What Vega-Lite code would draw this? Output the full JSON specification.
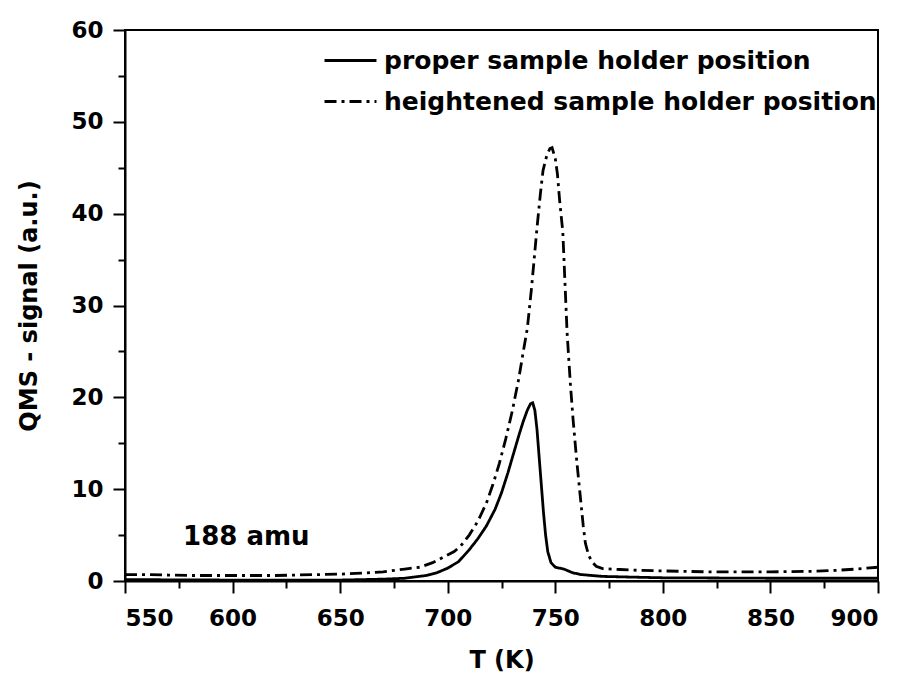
{
  "$schema": "https://vega.github.io/schema/vega-lite/v6.json",
  "width": 753,
  "height": 551,
  "autosize": {"type": "none"},
  "padding": {"left": 125, "top": 30, "right": 28, "bottom": 98},
  "background": "white",
  "config": {
    "view": {"stroke": "black", "strokeWidth": 2},
    "font": "DejaVu Sans",
    "axis": {
      "domainColor": "black", "domainWidth": 2, "tickColor": "black", "tickWidth": 2,
      "labelFont": "DejaVu Sans", "labelFontWeight": "bold", "labelFontSize": 23, "labelColor": "black",
      "titleFont": "DejaVu Sans", "titleFontWeight": "bold", "titleFontSize": 24, "titleColor": "black",
      "grid": false
    }
  },
  "datasets": {
    "curves": [
      {"T": 550, "signal": 0.15, "series": "proper sample holder position"},
      {"T": 600, "signal": 0.1, "series": "proper sample holder position"},
      {"T": 650, "signal": 0.1, "series": "proper sample holder position"},
      {"T": 670, "signal": 0.2, "series": "proper sample holder position"},
      {"T": 680, "signal": 0.3, "series": "proper sample holder position"},
      {"T": 690, "signal": 0.6, "series": "proper sample holder position"},
      {"T": 695, "signal": 0.9, "series": "proper sample holder position"},
      {"T": 700, "signal": 1.4, "series": "proper sample holder position"},
      {"T": 705, "signal": 2.1, "series": "proper sample holder position"},
      {"T": 710, "signal": 3.4, "series": "proper sample holder position"},
      {"T": 714, "signal": 4.6, "series": "proper sample holder position"},
      {"T": 718, "signal": 6.0, "series": "proper sample holder position"},
      {"T": 722, "signal": 7.8, "series": "proper sample holder position"},
      {"T": 725, "signal": 9.6, "series": "proper sample holder position"},
      {"T": 728, "signal": 11.8, "series": "proper sample holder position"},
      {"T": 731, "signal": 14.2, "series": "proper sample holder position"},
      {"T": 733, "signal": 15.8, "series": "proper sample holder position"},
      {"T": 735, "signal": 17.3, "series": "proper sample holder position"},
      {"T": 737, "signal": 18.6, "series": "proper sample holder position"},
      {"T": 738.5, "signal": 19.3, "series": "proper sample holder position"},
      {"T": 739.5, "signal": 19.4, "series": "proper sample holder position"},
      {"T": 740.5, "signal": 18.6, "series": "proper sample holder position"},
      {"T": 741.5, "signal": 16.5, "series": "proper sample holder position"},
      {"T": 742.5, "signal": 13.5, "series": "proper sample holder position"},
      {"T": 743.5, "signal": 10.5, "series": "proper sample holder position"},
      {"T": 744.5, "signal": 7.5, "series": "proper sample holder position"},
      {"T": 745.5, "signal": 5.0, "series": "proper sample holder position"},
      {"T": 746.5, "signal": 3.2, "series": "proper sample holder position"},
      {"T": 748, "signal": 2.0, "series": "proper sample holder position"},
      {"T": 750, "signal": 1.5, "series": "proper sample holder position"},
      {"T": 754, "signal": 1.3, "series": "proper sample holder position"},
      {"T": 758, "signal": 0.9, "series": "proper sample holder position"},
      {"T": 762, "signal": 0.7, "series": "proper sample holder position"},
      {"T": 772, "signal": 0.5, "series": "proper sample holder position"},
      {"T": 790, "signal": 0.4, "series": "proper sample holder position"},
      {"T": 800, "signal": 0.35, "series": "proper sample holder position"},
      {"T": 850, "signal": 0.3, "series": "proper sample holder position"},
      {"T": 900, "signal": 0.3, "series": "proper sample holder position"},

      {"T": 550, "signal": 0.7, "series": "heightened sample holder position"},
      {"T": 560, "signal": 0.7, "series": "heightened sample holder position"},
      {"T": 570, "signal": 0.65, "series": "heightened sample holder position"},
      {"T": 580, "signal": 0.6, "series": "heightened sample holder position"},
      {"T": 600, "signal": 0.6, "series": "heightened sample holder position"},
      {"T": 620, "signal": 0.6, "series": "heightened sample holder position"},
      {"T": 630, "signal": 0.65, "series": "heightened sample holder position"},
      {"T": 640, "signal": 0.7, "series": "heightened sample holder position"},
      {"T": 650, "signal": 0.75, "series": "heightened sample holder position"},
      {"T": 660, "signal": 0.85, "series": "heightened sample holder position"},
      {"T": 670, "signal": 1.0, "series": "heightened sample holder position"},
      {"T": 680, "signal": 1.3, "series": "heightened sample holder position"},
      {"T": 687, "signal": 1.5, "series": "heightened sample holder position"},
      {"T": 693, "signal": 2.0, "series": "heightened sample holder position"},
      {"T": 698, "signal": 2.6, "series": "heightened sample holder position"},
      {"T": 703, "signal": 3.2, "series": "heightened sample holder position"},
      {"T": 706, "signal": 3.8, "series": "heightened sample holder position"},
      {"T": 710, "signal": 5.0, "series": "heightened sample holder position"},
      {"T": 714, "signal": 6.5, "series": "heightened sample holder position"},
      {"T": 718, "signal": 8.5, "series": "heightened sample holder position"},
      {"T": 721, "signal": 10.5, "series": "heightened sample holder position"},
      {"T": 724, "signal": 12.8, "series": "heightened sample holder position"},
      {"T": 727, "signal": 15.5, "series": "heightened sample holder position"},
      {"T": 730, "signal": 18.5, "series": "heightened sample holder position"},
      {"T": 733, "signal": 22.0, "series": "heightened sample holder position"},
      {"T": 735, "signal": 24.8, "series": "heightened sample holder position"},
      {"T": 737, "signal": 27.5, "series": "heightened sample holder position"},
      {"T": 739, "signal": 32.0, "series": "heightened sample holder position"},
      {"T": 741.4, "signal": 38.2, "series": "heightened sample holder position"},
      {"T": 743, "signal": 42.0, "series": "heightened sample holder position"},
      {"T": 744.3, "signal": 44.7, "series": "heightened sample holder position"},
      {"T": 746, "signal": 46.3, "series": "heightened sample holder position"},
      {"T": 747.5, "signal": 47.1, "series": "heightened sample holder position"},
      {"T": 748.5, "signal": 47.2, "series": "heightened sample holder position"},
      {"T": 750, "signal": 46.0, "series": "heightened sample holder position"},
      {"T": 751, "signal": 44.3, "series": "heightened sample holder position"},
      {"T": 752, "signal": 41.5, "series": "heightened sample holder position"},
      {"T": 753.5, "signal": 38.0, "series": "heightened sample holder position"},
      {"T": 754.5, "signal": 32.5, "series": "heightened sample holder position"},
      {"T": 755.5, "signal": 27.0, "series": "heightened sample holder position"},
      {"T": 757, "signal": 21.5, "series": "heightened sample holder position"},
      {"T": 758.3, "signal": 17.5, "series": "heightened sample holder position"},
      {"T": 760, "signal": 13.0, "series": "heightened sample holder position"},
      {"T": 761.5, "signal": 9.5, "series": "heightened sample holder position"},
      {"T": 763, "signal": 6.0, "series": "heightened sample holder position"},
      {"T": 764, "signal": 4.1, "series": "heightened sample holder position"},
      {"T": 765.5, "signal": 2.8, "series": "heightened sample holder position"},
      {"T": 767, "signal": 2.1, "series": "heightened sample holder position"},
      {"T": 769, "signal": 1.6, "series": "heightened sample holder position"},
      {"T": 772, "signal": 1.35, "series": "heightened sample holder position"},
      {"T": 780, "signal": 1.25, "series": "heightened sample holder position"},
      {"T": 790, "signal": 1.15, "series": "heightened sample holder position"},
      {"T": 800, "signal": 1.1, "series": "heightened sample holder position"},
      {"T": 820, "signal": 1.0, "series": "heightened sample holder position"},
      {"T": 850, "signal": 1.0, "series": "heightened sample holder position"},
      {"T": 870, "signal": 1.05, "series": "heightened sample holder position"},
      {"T": 880, "signal": 1.15, "series": "heightened sample holder position"},
      {"T": 890, "signal": 1.3, "series": "heightened sample holder position"},
      {"T": 900, "signal": 1.5, "series": "heightened sample holder position"}
    ],
    "labels": [{"T": 577, "signal": 4.8, "text": "188 amu"}]
  },
  "layer": [
    {
      "data": {"name": "curves"},
      "mark": {"type": "line", "color": "black", "strokeWidth": 2.8, "clip": true},
      "encoding": {
        "x": {"field": "T", "type": "quantitative",
          "scale": {"domain": [550, 900], "nice": false, "zero": false},
          "axis": {"title": "T (K)", "values": [550, 575, 600, 625, 650, 675, 700, 725, 750, 775, 800, 825, 850, 875, 900],
            "labelExpr": "datum.value % 50 === 0 ? datum.label : ''",
            "tickSize": {"condition": {"test": "datum.value % 50 === 0", "value": 12}, "value": 7},
            "labelPadding": 14, "titlePadding": 18}},
        "y": {"field": "signal", "type": "quantitative",
          "scale": {"domain": [0, 60], "nice": false},
          "axis": {"title": "QMS - signal (a.u.)", "values": [0, 5, 10, 15, 20, 25, 30, 35, 40, 45, 50, 55, 60],
            "labelExpr": "datum.value % 10 === 0 ? datum.label : ''",
            "tickSize": {"condition": {"test": "datum.value % 10 === 0", "value": 12}, "value": 7},
            "labelPadding": 10, "titlePadding": 29}},
        "strokeDash": {"field": "series", "type": "nominal",
          "scale": {"domain": ["proper sample holder position", "heightened sample holder position"], "range": [[1, 0], [12, 5, 3, 5]]},
          "legend": {"title": null, "orient": "none", "legendX": 198, "legendY": 3,
            "symbolType": "stroke", "symbolSize": 2700, "symbolStrokeWidth": 2.8, "symbolStrokeColor": "black",
            "labelFont": "DejaVu Sans", "labelFontWeight": "bold", "labelFontSize": 25, "labelColor": "black",
            "labelOffset": 6, "rowPadding": -10, "labelLimit": 600}},
        "detail": {"field": "series"}
      }
    },
    {
      "data": {"name": "labels"},
      "mark": {"type": "text", "align": "left", "baseline": "middle", "font": "DejaVu Sans", "fontWeight": "bold", "fontSize": 26, "color": "black"},
      "encoding": {
        "x": {"field": "T", "type": "quantitative"},
        "y": {"field": "signal", "type": "quantitative"},
        "text": {"field": "text"}
      }
    }
  ]
}
